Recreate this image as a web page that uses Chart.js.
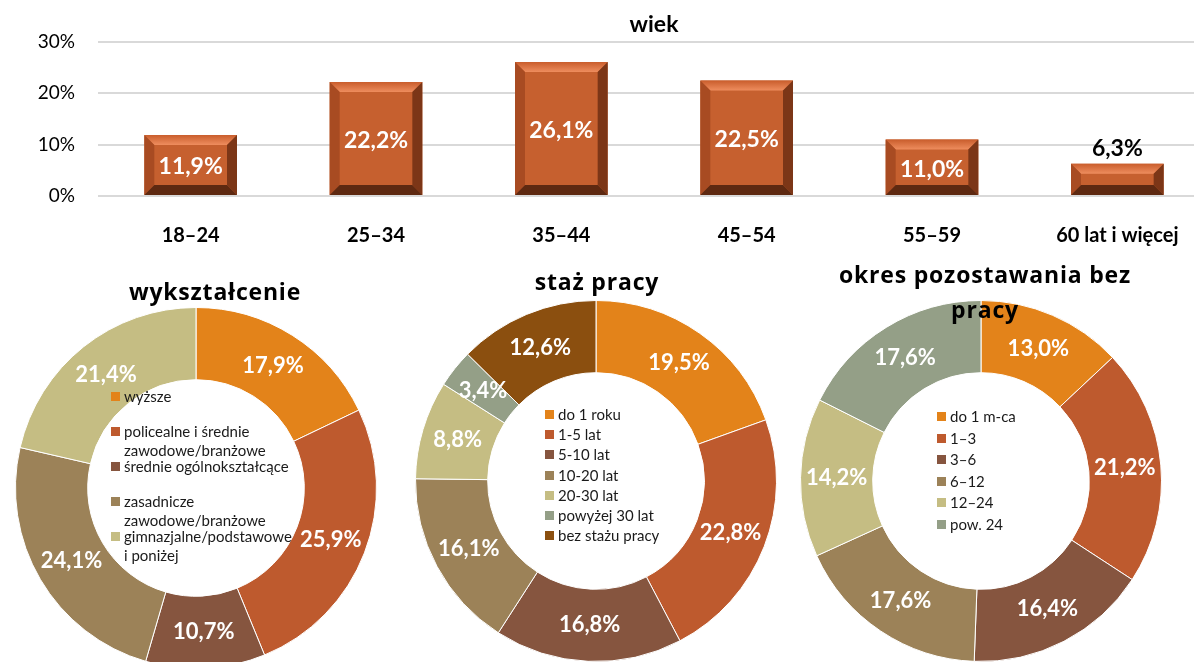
<!DOCTYPE html>
<html lang="pl">
<head>
<meta charset="utf-8">
<script src="https://cdn.jsdelivr.net/npm/chart.js@4"></script>
<style>
html,body{margin:0;padding:0;background:#fff;overflow:hidden;width:1194px;height:662px}
body{position:relative;font-family:Lato,sans-serif}
canvas{position:absolute}
.ttl{position:absolute;width:400px;font-family:'Open Sans',sans-serif;font-weight:700;font-size:23px;letter-spacing:0.8px;text-align:center;line-height:35px;color:#000;z-index:2;white-space:nowrap}
.lg{position:absolute;font-size:15px;color:#1a1a1a;z-index:2}
.lg .it{position:relative;padding-left:13px;line-height:19px;white-space:nowrap}
.lg .sw{position:absolute;left:0;top:5px;width:9px;height:9px}
</style>
</head>
<body>
<canvas id="wiekChart" width="1210" height="250" style="left:0;top:0"></canvas>
<canvas id="eduChart" width="362" height="362" style="left:15px;top:307px"></canvas>
<canvas id="stazChart" width="362" height="362" style="left:415px;top:300px"></canvas>
<canvas id="okresChart" width="362" height="362" style="left:800px;top:300px"></canvas>
<div class="ttl" id="eduTitle" style="left:15px;top:274px"></div>
<div class="ttl" id="stazTitle" style="left:397px;top:264px"></div>
<div class="ttl" id="okresTitle" style="left:785px;top:257px"></div>
<div class="lg" id="eduLegend" style="left:111px;top:387px"></div>
<div class="lg" id="stazLegend" style="left:545px;top:405px"></div>
<div class="lg" id="okresLegend" style="left:937px;top:407px"></div>
<script>
// wiek
const ageLabels = ['18–24', '25–34', '35–44', '45–54', '55–59', '60 lat i więcej'];
const ageValues = [11.9, 22.2, 26.1, 22.5, 11.0, 6.3];

// wykształcenie
const eduLabels = ['wyższe', ['policealne i średnie', 'zawodowe/branżowe'], 'średnie ogólnokształcące',
  ['zasadnicze', 'zawodowe/branżowe'], ['gimnazjalne/podstawowe', 'i poniżej']];
const eduValues = [17.9, 25.9, 10.7, 24.1, 21.4];

// staż pracy
const stazLabels = ['do 1 roku', '1-5 lat', '5-10 lat', '10-20 lat', '20-30 lat', 'powyżej 30 lat', 'bez stażu pracy'];
const stazValues = [19.5, 22.8, 16.8, 16.1, 8.8, 3.4, 12.6];

// okres pozostawania bez pracy
const okresLabels = ['do 1 m-ca', '1–3', '3–6', '6–12', '12–24', 'pow. 24'];
const okresValues = [13.0, 21.2, 16.4, 17.6, 14.2, 17.6];

const titles = {edu: ['wykształcenie'], staz: ['staż pracy'], okres: ['okres pozostawania bez', 'pracy']};
const palette = ['#E3831A', '#BE5A2E', '#86553F', '#9C8258', '#C5BD83', '#949F87', '#8B4F0F'];

Chart.defaults.font.family = 'Lato, sans-serif';
Chart.defaults.animation = false;

const fmt = v => v.toFixed(1).replace('.', ',') + '%';

function poly(ctx, pts, fill) {
  ctx.beginPath();
  ctx.moveTo(pts[0][0], pts[0][1]);
  for (let i = 1; i < pts.length; i++) ctx.lineTo(pts[i][0], pts[i][1]);
  ctx.closePath();
  ctx.fillStyle = fill;
  ctx.fill();
}

// bevel look of the bars + value labels
const barDeco = {
  id: 'barDeco',
  afterDatasetsDraw(chart) {
    const ctx = chart.ctx;
    const meta = chart.getDatasetMeta(0);
    ctx.save();
    meta.data.forEach((bar, i) => {
      const p = bar.getProps(['x', 'y', 'base', 'width'], true);
      const L = p.x - p.width / 2, R = p.x + p.width / 2, T = p.y, B = p.base;
      const b = Math.min(10, (B - T) / 3);
      const g = ctx.createLinearGradient(0, T, 0, T + b);
      g.addColorStop(0, '#C95D2C');
      g.addColorStop(1, '#EE8D5E');
      poly(ctx, [[L, T], [R, T], [R - b, T + b], [L + b, T + b]], g);
      poly(ctx, [[L, T], [L + b, T + b], [L + b, B - b], [L, B]], '#A84B22');
      poly(ctx, [[R, T], [R - b, T + b], [R - b, B - b], [R, B]], '#7C3617');
      poly(ctx, [[L, B], [L + b, B - b], [R - b, B - b], [R, B]], '#5E2911');
      ctx.font = 'bold 23px Lato';
      ctx.textAlign = 'center';
      ctx.textBaseline = 'middle';
      const v = ageValues[i];
      if (v > 8) {
        ctx.fillStyle = '#fff';
        ctx.fillText(fmt(v), p.x, (T + B) / 2 + 2);
      } else {
        ctx.fillStyle = '#000';
        ctx.fillText(fmt(v), p.x, T - 15);
      }
    });
    ctx.restore();
  }
};

new Chart(document.getElementById('wiekChart'), {
  type: 'bar',
  data: {
    labels: ageLabels,
    datasets: [{data: ageValues, backgroundColor: '#C6602F', categoryPercentage: 0.5, barPercentage: 1}]
  },
  options: {
    responsive: false,
    layout: {padding: 0},
    plugins: {
      legend: {display: false},
      tooltip: {enabled: false},
      title: {display: true, text: 'wiek', fullSize: false, color: '#000',
        font: {size: 23, weight: 'bold'}, padding: {top: 11, bottom: 3.4}}
    },
    scales: {
      x: {
        grid: {display: false}, border: {display: false},
        ticks: {color: '#000', font: {size: 20, weight: 'bold'}, padding: 20, maxRotation: 0},
        afterFit: s => { s.height = 54; }
      },
      y: {
        min: 0, max: 30,
        grid: {color: '#D9D9D9', lineWidth: 2, drawTicks: false}, border: {display: false},
        ticks: {stepSize: 10, color: '#000', font: {size: 19}, padding: 23, callback: v => v + '%'},
        afterFit: s => { s.width = 98; }
      }
    }
  },
  plugins: [barDeco]
});

const arcLabels = {
  id: 'arcLabels',
  afterDatasetsDraw(chart) {
    const ctx = chart.ctx;
    const vals = chart.data.datasets[0].data;
    ctx.save();
    ctx.font = 'bold 22px Lato';
    ctx.fillStyle = '#fff';
    ctx.textAlign = 'center';
    ctx.textBaseline = 'middle';
    chart.getDatasetMeta(0).data.forEach((arc, i) => {
      const p = arc.tooltipPosition(true);
      ctx.fillText(fmt(vals[i]), p.x, p.y);
    });
    ctx.restore();
  }
};

function renderDonut(id, labels, values, key, itemH) {
  const colors = palette.slice(0, values.length);
  new Chart(document.getElementById(id + 'Chart'), {
    type: 'doughnut',
    data: {labels: labels, datasets: [{data: values, backgroundColor: colors, borderColor: '#fff', borderWidth: 1}]},
    options: {
      responsive: false,
      cutout: '60%',
      layout: {padding: 0},
      plugins: {legend: {display: false}, tooltip: {enabled: false}}
    },
    plugins: [arcLabels]
  });
  document.getElementById(id + 'Title').innerHTML = titles[key].join('<br>');
  document.getElementById(id + 'Legend').innerHTML = labels.map((l, i) =>
    '<div class="it" style="height:' + itemH + 'px"><span class="sw" style="background:' + colors[i] + '"></span>' +
    [].concat(l).join('<br>') + '</div>').join('');
}

renderDonut('edu', eduLabels, eduValues, 'edu', 35);
renderDonut('staz', stazLabels, stazValues, 'staz', 20.2);
renderDonut('okres', okresLabels, okresValues, 'okres', 21.6);
</script>
</body>
</html>
